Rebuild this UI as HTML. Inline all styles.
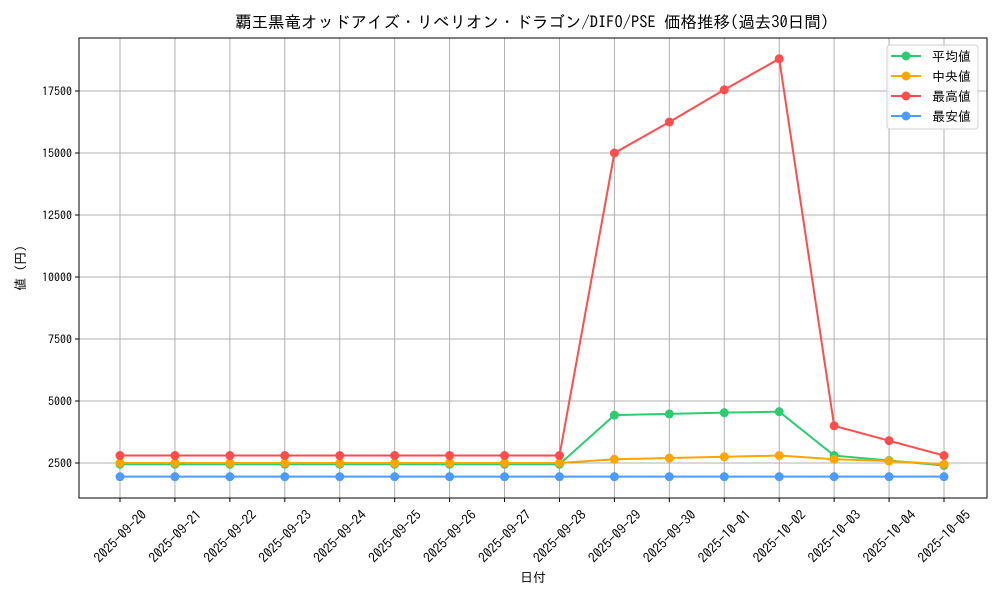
<!DOCTYPE html>
<html><head><meta charset="utf-8"><style>
body{margin:0;background:#fff;font-family:"IPAGothic","Noto Sans CJK JP",sans-serif;}
svg text{font-family:"IPAGothic","Noto Sans CJK JP",sans-serif;}
</style></head><body>
<svg id="chart" width="1000" height="600" xmlns="http://www.w3.org/2000/svg"></svg>
<script>
const dates=["2025-09-20","2025-09-21","2025-09-22","2025-09-23","2025-09-24","2025-09-25","2025-09-26","2025-09-27","2025-09-28","2025-09-29","2025-09-30","2025-10-01","2025-10-02","2025-10-03","2025-10-04","2025-10-05"];
const avgVals=[2450,2450,2450,2450,2450,2450,2450,2450,2450,4430,4480,4530,4570,2800,2600,2400];
const medVals=[2500,2500,2500,2500,2500,2500,2500,2500,2500,2650,2700,2750,2800,2650,2580,2450];
const maxVals=[2800,2800,2800,2800,2800,2800,2800,2800,2800,15000,16250,17550,18800,4000,3400,2800];
const minVals=[1950,1950,1950,1950,1950,1950,1950,1950,1950,1950,1950,1950,1950,1950,1950,1950];
const yTicks=[2500,5000,7500,10000,12500,15000,17500];
const seriesNames=["平均値","中央値","最高値","最安値"];
const NS="http://www.w3.org/2000/svg";
const svg=document.getElementById('chart');
const L=79,R=987,T=38,B=498;
const x0=120,x1=944;
function xs(i){return x0+(x1-x0)*i/(dates.length-1);}
function ys(v){return 525-v*62/2500;}
function mk(tag,attrs,parent){const e=document.createElementNS(NS,tag);for(const k in attrs)e.setAttribute(k,attrs[k]);(parent||svg).appendChild(e);return e;}
dates.forEach((d,i)=>{const g=mk('line',{x1:xs(i),x2:xs(i),y1:T,y2:B,stroke:'#b0b0b0','stroke-width':1});

});
yTicks.forEach(v=>{const g=mk('line',{x1:L,x2:R,y1:ys(v),y2:ys(v),stroke:'#b0b0b0','stroke-width':1});

});
yTicks.forEach(v=>{mk('line',{x1:L-4,x2:L,y1:ys(v),y2:ys(v),stroke:'#000'});
const t=mk('text',{x:L-7,y:ys(v)+4.5,'text-anchor':'end','font-size':12});t.textContent=v;

});
dates.forEach((d,i)=>{mk('line',{x1:xs(i),x2:xs(i),y1:B,y2:B+4,stroke:'#000'});
const ax=xs(i),ay=B+38;
const t=mk('text',{x:ax,y:ay,'text-anchor':'middle','dominant-baseline':'central','font-size':13.5,transform:`rotate(-45 ${ax} ${ay})`});t.textContent=d;

});
const all=[[avgVals,'#2ecc71'],[medVals,'#ffa500'],[maxVals,'#ff4c4c'],[minVals,'#4c9bff']];
const order=[3,0,1,2];
order.forEach(k=>{const [vals,c]=all[k];
const p=mk('polyline',{points:vals.map((v,i)=>xs(i)+','+ys(v)).join(' '),fill:'none',stroke:c,'stroke-width':2});


vals.forEach((v,i)=>{const m=mk('circle',{cx:xs(i),cy:ys(v),r:4.5,fill:c});

});});
const f=mk('rect',{x:L,y:T,width:R-L,height:B-T,fill:'none',stroke:'#000','stroke-width':1});


const tt=mk('text',{x:532,y:28,'text-anchor':'middle','font-size':16.5});tt.textContent='覇王黒竜オッドアイズ・リベリオン・ドラゴン/DIFO/PSE 価格推移(過去30日間)';


const xt=mk('text',{x:533,y:582,'text-anchor':'middle','font-size':13});xt.textContent='日付';


const yt=mk('text',{x:25,y:268,'text-anchor':'middle','font-size':13,transform:'rotate(-90 25 268)'});yt.textContent='値 (円)';


const lg=mk('rect',{x:887,y:45,width:91,height:84,rx:3,fill:'#fff','fill-opacity':0.85,stroke:'#d0d0d0'});


seriesNames.forEach((n,k)=>{const y=56+k*20;const c=all[k][1];
mk('line',{x1:891,x2:921,y1:y,y2:y,stroke:c,'stroke-width':2});
mk('circle',{cx:906,cy:y,r:4.5,fill:c});
const t=mk('text',{x:932,y:y+5,'font-size':13});t.textContent=n;

});
</script>
</body></html>
